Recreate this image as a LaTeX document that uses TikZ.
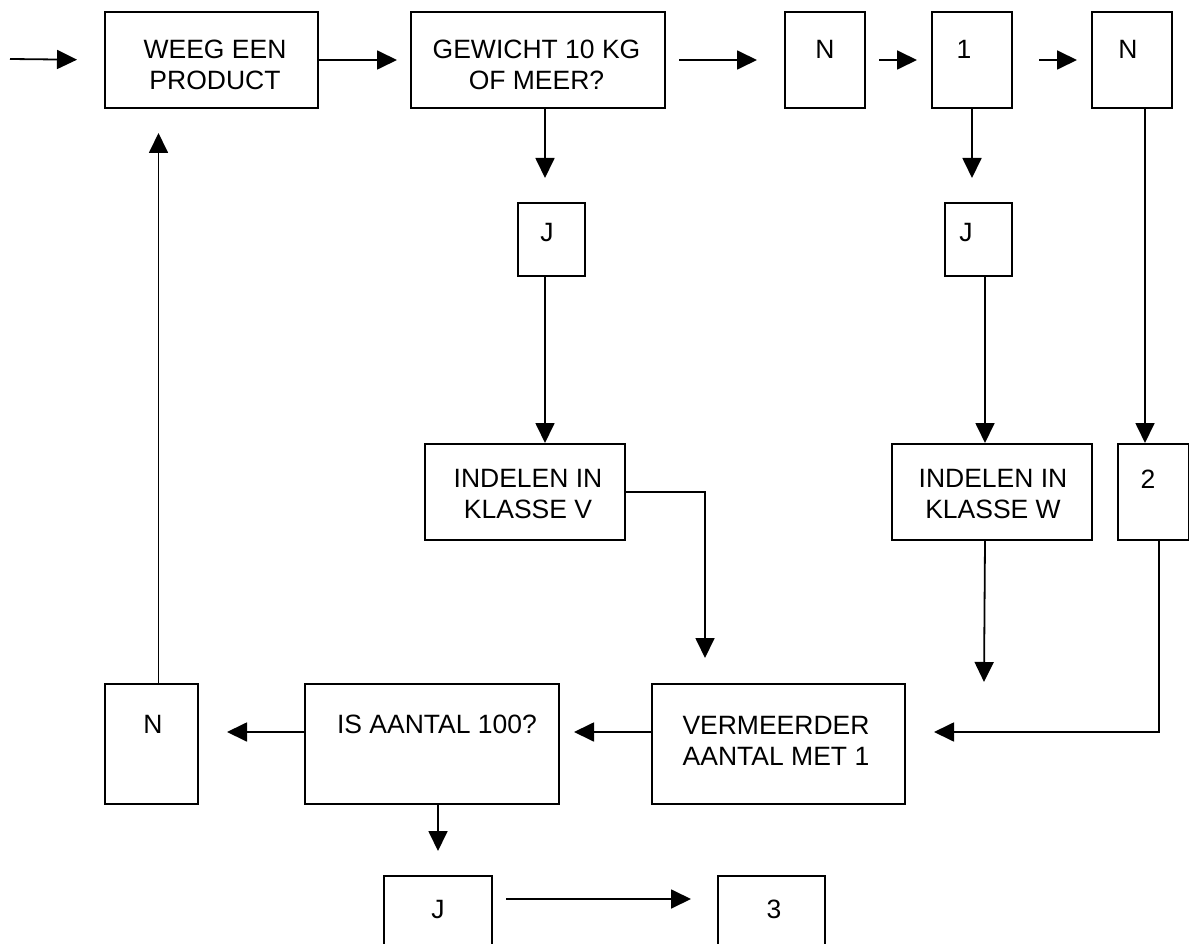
\documentclass[tikz,border=0pt]{standalone}
\usepackage{fontspec}
\setmainfont{Liberation Sans}
\usetikzlibrary{arrows.meta}
\tikzset{
  box/.style={draw, line width=2pt, anchor=north west, inner sep=0pt},
  txt/.style={font=\fontsize{26.5}{31}\selectfont, align=center, inner sep=0pt, anchor=center},
  conn/.style={line width=1.8pt},
  arr/.style={line width=1.8pt, -{Triangle[length=20pt,width=19pt]}},
}
\begin{document}
\begin{tikzpicture}[x=1pt,y=-1pt]
\useasboundingbox (0,0) rectangle (1189,944);
\fill[white] (0,0) rectangle (1189,944);
\clip (0,0) rectangle (1189,944);
% boxes
\node[box, minimum width=213pt, minimum height=96pt] (weeg) at (104,11) {};
\node[box, minimum width=254pt, minimum height=96pt] (gew) at (410,11) {};
\node[box, minimum width=80pt, minimum height=96pt] (n1) at (784,11) {};
\node[box, minimum width=80pt, minimum height=96pt] (one) at (931,11) {};
\node[box, minimum width=80pt, minimum height=96pt] (n2) at (1091,11) {};
\node[box, minimum width=67pt, minimum height=73pt] (j1) at (517,202) {};
\node[box, minimum width=67pt, minimum height=73pt] (j2) at (944,202) {};
\node[box, minimum width=200pt, minimum height=96pt] (klv) at (424,443) {};
\node[box, minimum width=200pt, minimum height=96pt] (klw) at (891,443) {};
\node[box, minimum width=71pt, minimum height=96pt] (two) at (1117,443) {};
\node[box, minimum width=253pt, minimum height=120pt] (verm) at (651,683) {};
\node[box, minimum width=254pt, minimum height=120pt] (isa) at (304,683) {};
\node[box, minimum width=93pt, minimum height=120pt] (n3) at (104,683) {};
\node[box, minimum width=108pt, minimum height=90pt] (j3) at (383,875) {};
\node[box, minimum width=107pt, minimum height=90pt] (three) at (717,875) {};
% texts
\node[txt] (tweeg) at (215,64.5) {WEEG EEN\\PRODUCT};
\node[txt] (tgew) at (536.5,64.5) {GEWICHT 10 KG\\OF MEER?};
\node[txt] (tn1) at (825,49.5) {N};
\node[txt] (tone) at (964,49.5) {1};
\node[txt] (tn2) at (1128,49.5) {N};
\node[txt] (tj1) at (547,233) {J};
\node[txt] (tj2) at (966,233) {J};
\node[txt] (tklv) at (528,494.5) {INDELEN IN\\KLASSE V};
\node[txt] (tklw) at (993,494.5) {INDELEN IN\\KLASSE W};
\node[txt] (ttwo) at (1148,479.5) {2};
\node[txt] (tverm) at (776,740.5) {VERMEERDER\\AANTAL MET 1};
\node[txt] (tisa) at (437,724.5) {IS AANTAL 100?};
\node[txt] (tn3) at (153,724.5) {N};
\node[txt] (tj3) at (438,909.5) {J};
\node[txt] (tthree) at (774,909.5) {3};
% helper coordinates
\coordinate (start) at (10,59);
\coordinate (wend) at (984,682);
\coordinate (gs) at ([xshift=7pt]gew.south);
\coordinate (j1s) at ([xshift=-6.5pt]j1.south);
\coordinate (j2s) at ([xshift=6.5pt]j2.south);
\coordinate (n2s) at ([xshift=13pt]n2.south);
\coordinate (vn) at ([xshift=-73.5pt]verm.north);
\coordinate (kws) at ([xshift=-7pt]klw.south);
\coordinate (tws) at ([xshift=5.5pt]two.south);
\coordinate (ve) at ([yshift=12pt]verm.east);
\coordinate (vw) at ([yshift=12pt]verm.west);
\coordinate (ie) at ([yshift=12pt]isa.east);
\coordinate (iw) at ([yshift=12pt]isa.west);
\coordinate (ne) at ([yshift=12pt]n3.east);
\coordinate (nn) at ([xshift=7pt]n3.north);
\coordinate (j3e) at ([yshift=-24pt]j3.north east);
\coordinate (thw) at ([yshift=-24pt]three.north west);
% connectors
\draw[arr, shorten >=27pt] (start) -- (weeg.west);
\draw[arr, shorten >=13pt] (weeg.east) -- (gew.west);
\draw[arr, shorten <=13pt, shorten >=27pt] (gew.east) -- (n1.west);
\draw[arr, shorten <=13pt, shorten >=14pt] (n1.east) -- (one.west);
\draw[arr, shorten <=26pt, shorten >=14pt] (one.east) -- (n2.west);
\draw[arr, shorten >=24pt] (gs) -- (gs |- j1.north);
\draw[arr, shorten >=24pt] (one.south) -- (one.south |- j2.north);
\draw[arr] (j1s) -- (j1s |- klv.north);
\draw[arr] (j2s) -- (j2s |- klw.north);
\draw[arr] (n2s) -- (n2s |- two.north);
\draw[arr, shorten >=25pt] (klv.east) -| (vn);
\draw[arr] (kws) -- (wend);
\draw[arr, shorten >=28pt] (tws) |- (ve);
\draw[arr, shorten >=14pt] (vw) -- (ie);
\draw[arr, shorten >=28pt] (iw) -- (ne);
\draw[arr, shorten >=24pt] (j3.north |- isa.south) -- (j3.north);
\draw[arr, shorten <=13pt, shorten >=26pt] (j3e) -- (thw);
\draw[arr, shorten >=24pt] (nn) -- (nn |- weeg.south);
\end{tikzpicture}
\end{document}
